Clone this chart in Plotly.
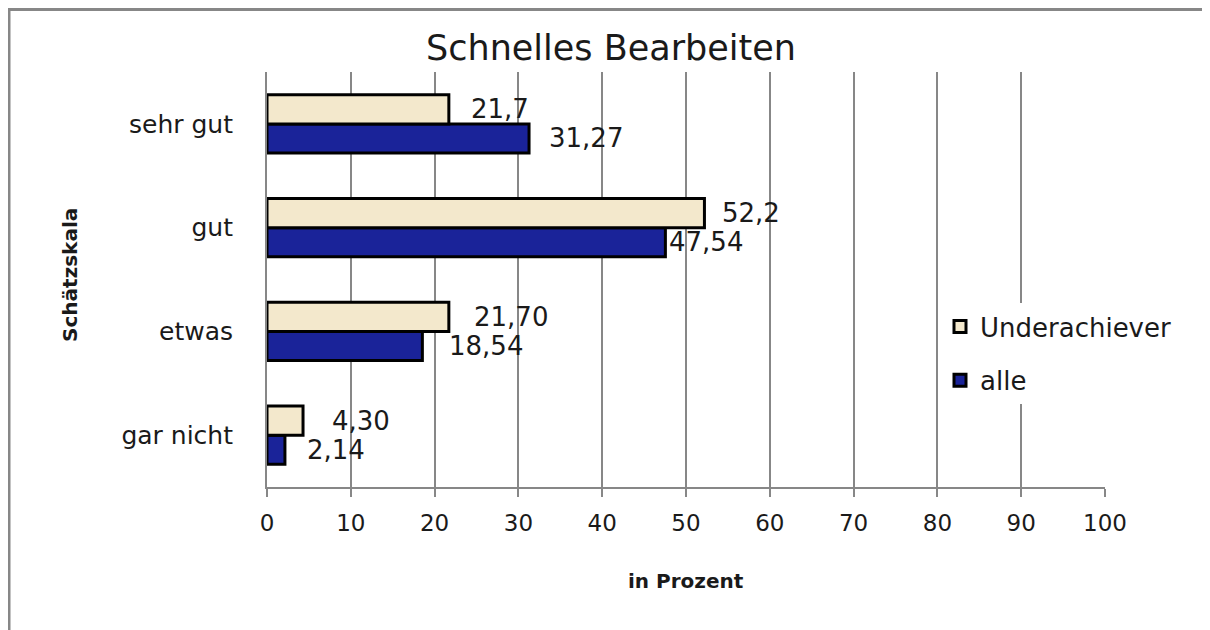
import plotly.graph_objects as go

categories = ["gar nicht", "etwas", "gut", "sehr gut"]
underachiever = [4.30, 21.70, 52.2, 21.7]
alle = [2.14, 18.54, 47.54, 31.27]
underachiever_labels = ["4,30", "21,70", "52,2", "21,7"]
alle_labels = ["2,14", "18,54", "47,54", "31,27"]
x_ticks = [0, 10, 20, 30, 40, 50, 60, 70, 80, 90, 100]

# pixel gap between bar end and its label (labels were hand-placed in the original)
under_shift = [27, 23, 16, 20]
alle_shift = [20, 25, 2, 18]

W, H = 1210, 630
OFF = 8  # page body margin
L, T = 267 - OFF, 72 - OFF
R, B = W - (1105 - OFF), H - (487 - OFF)
pw, ph = W - L - R, H - T - B


def px_x(p):
    return (p - OFF - L) / pw


def px_y(p):
    return (H - B - (p - OFF)) / ph


grid = "#878787"
txt = "#1a1a1a"

fig = go.Figure()

# first trace sits lower in a horizontal group, so "alle" goes first
fig.add_trace(go.Bar(
    y=categories, x=alle, orientation="h", name="alle",
    legendgroup="alle", legendrank=2,
    marker=dict(color="#1a2399", line=dict(color="black", width=3)),
))
fig.add_trace(go.Bar(
    y=categories, x=underachiever, orientation="h", name="Underachiever",
    legendgroup="under", legendrank=1,
    marker=dict(color="#f3e8cc", line=dict(color="black", width=3)),
))

bar_px = ph / len(categories) * (1 - 0.44) / 2
for cat, v, lab, dx in zip(categories, underachiever, underachiever_labels, under_shift):
    fig.add_annotation(x=v, y=cat, text=lab, showarrow=False, xanchor="left",
                       xshift=dx, yshift=bar_px / 2,
                       font=dict(family="DejaVu Sans", size=26, color=txt))
for cat, v, lab, dx in zip(categories, alle, alle_labels, alle_shift):
    fig.add_annotation(x=v, y=cat, text=lab, showarrow=False, xanchor="left",
                       xshift=dx, yshift=-bar_px / 2,
                       font=dict(family="DejaVu Sans", size=26, color=txt))

# axis titles
fig.add_annotation(xref="paper", yref="paper", x=px_x(70), y=px_y(275),
                   xanchor="center", yanchor="middle",
                   text="<b>Schätzskala</b>", textangle=-90, showarrow=False,
                   font=dict(family="DejaVu Sans", size=20, color=txt))
fig.add_annotation(xref="paper", yref="paper", x=0.5, y=px_y(581),
                   xanchor="center", yanchor="middle",
                   text="<b>in Prozent</b>", showarrow=False,
                   font=dict(family="DejaVu Sans", size=20, color=txt))

# outer chart border (top edge sits at the top of the figure)
fig.add_shape(type="rect", xref="paper", yref="paper",
              x0=px_x(9), x1=1.3, y0=-0.6, y1=(H - B - 1.5) / ph,
              line=dict(color=grid, width=3), layer="below")

fig.update_layout(
    width=W, height=H,
    margin=dict(l=L, r=R, t=T, b=B),
    paper_bgcolor="white", plot_bgcolor="white",
    barmode="group", bargap=0.44, bargroupgap=0,
    title=dict(text="Schnelles Bearbeiten", x=(611 - OFF) / W, xref="container",
               y=1 - (48 - OFF) / H, yanchor="middle", xanchor="center",
               font=dict(family="DejaVu Sans", size=35, color=txt)),
    legend=dict(x=px_x(940), y=px_y(303), xanchor="left", yanchor="top",
                traceorder="grouped", tracegroupgap=17,
                bgcolor="white", font=dict(family="DejaVu Sans", size=26, color=txt)),
    xaxis=dict(range=[0, 100], tickvals=x_ticks, showgrid=True, gridcolor=grid, gridwidth=1.5,
               showline=True, linecolor=grid, linewidth=2, ticks="outside", ticklen=8,
               tickcolor=grid, tickwidth=1.5, zeroline=False, ticklabelstandoff=6,
               tickfont=dict(family="DejaVu Sans", size=23, color=txt)),
    yaxis=dict(categoryorder="array", categoryarray=categories, showgrid=False,
               showline=True, linecolor=grid, linewidth=2, ticks="", ticklabelstandoff=27,
               tickfont=dict(family="DejaVu Sans", size=25, color=txt)),
)

fig.write_html("out.html")
